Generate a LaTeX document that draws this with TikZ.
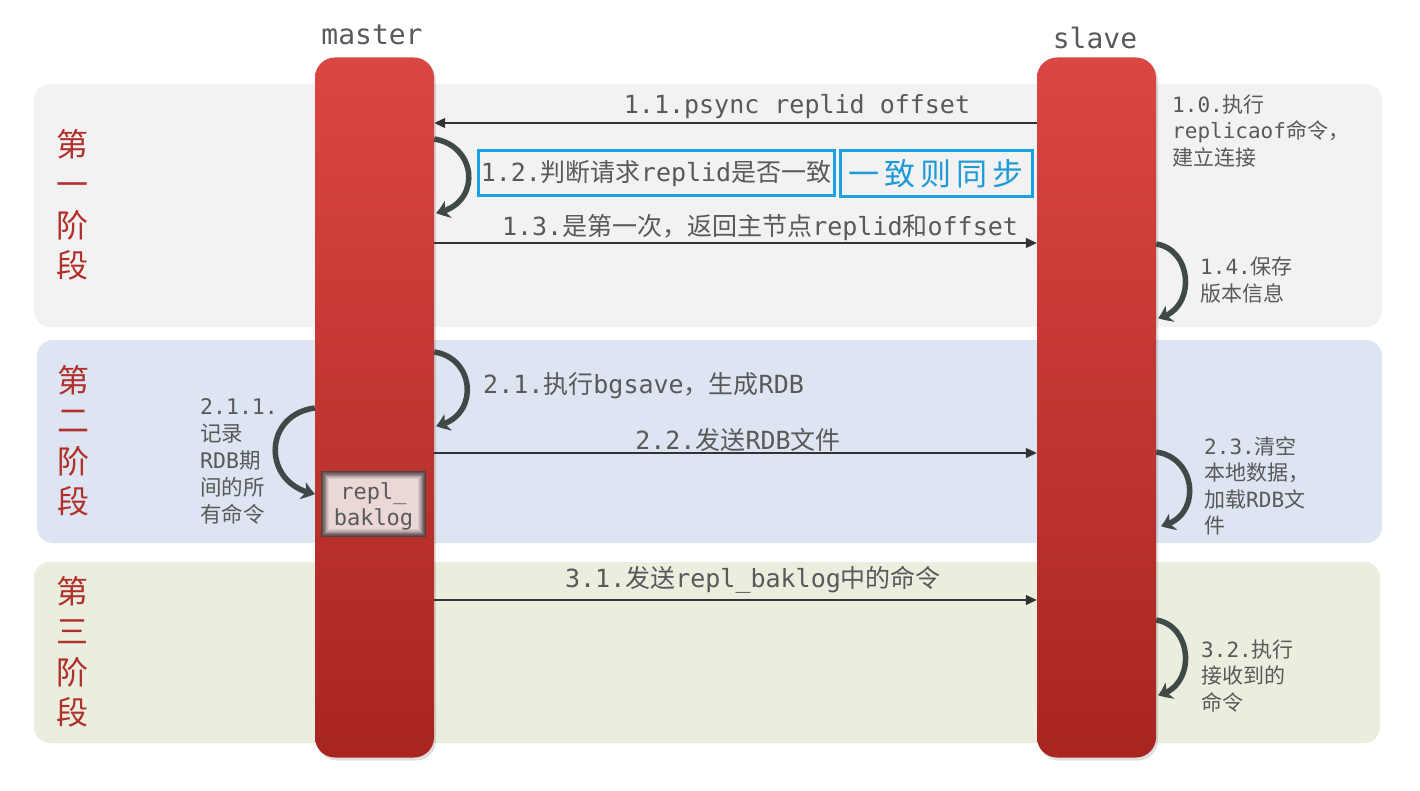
\documentclass[tikz,border=0pt]{standalone}
\usepackage{fontspec}
\newfontfamily\mono{DejaVu Sans Mono}
\newfontfamily\cjk{Noto Sans CJK SC}
\usetikzlibrary{arrows.meta,bending,shadows}
\definecolor{barTop}{HTML}{DA4643}
\definecolor{barBot}{HTML}{A92521}
\definecolor{phA}{HTML}{F2F2F2}
\definecolor{phB}{HTML}{DCE5F1}
\definecolor{phC}{HTML}{E9EEDE}
\definecolor{txt}{HTML}{595959}
\definecolor{phasered}{HTML}{B2302B}
\definecolor{curvecol}{HTML}{3E4948}
\definecolor{bluebox}{HTML}{1BA1E2}
\definecolor{bluetxt}{HTML}{1E9AD6}
\definecolor{lineblk}{HTML}{333333}
\definecolor{rbA}{HTML}{4A3838}
\definecolor{rbD}{HTML}{F4E0E0}
\newcommand\zh[1]{{\cjk #1}}
\begin{document}
\begin{tikzpicture}[x=1pt,y=-1pt,
  bar/.style={rectangle,rounded corners=20pt,minimum width=119pt,minimum height=700pt,
    top color=barTop,bottom color=barBot,draw=none,
    drop shadow={shadow xshift=2pt,shadow yshift=-3pt,opacity=0.25}},
  phaselbl/.style={text=phasered,align=center,inner sep=0pt,
    font=\cjk\fontsize{32}{40.5}\selectfont},
  actor/.style={text=txt,inner sep=0pt,font=\mono\fontsize{28}{32}\selectfont},
  msglbl/.style={text=txt,inner sep=0pt,font=\mono\fontsize{25}{30}\selectfont},
  note/.style={text=txt,inner sep=0pt,align=left,font=\mono\fontsize{21}{26.5}\selectfont},
  msg/.style={draw=lineblk,line width=1.3pt,-{Triangle[length=11pt,width=10pt]}},
  curv/.style={draw=curvecol,line width=5.5pt,-{Stealth[length=13pt,width=18pt,inset=4pt,bend]}},
  bluebx/.style={draw=bluebox,line width=3pt,inner sep=0pt}]
\useasboundingbox (0,0) rectangle (1420,791);
% phase backgrounds
\fill[phA,rounded corners=16pt] (34,84) rectangle (1382,327);
\fill[phB,rounded corners=16pt] (37,340) rectangle (1382,543);
\fill[phC,rounded corners=16pt] (34,562) rectangle (1380,743);
% phase labels
\node[phaselbl] (p1) at (72,205) {第\\一\\阶\\段};
\node[phaselbl] (p2) at (73,441) {第\\二\\阶\\段};
\node[phaselbl] (p3) at (72,652) {第\\三\\阶\\段};
% lifelines
\node[bar] (master) at (374.5,407.5) {};
\node[bar] (slave) at (1096.5,407.5) {};
\node[actor] (mlbl) at (372,35) {master};
\node[actor] (slbl) at (1095,38) {slave};
% repl_baklog box (soft dark inner edge)
\foreach \i in {0,...,9} {
  \pgfmathtruncatemacro\p{95-\i*10}
  \fill[rbA!\p!rbD] (321+\i*0.9,471+\i*0.9) rectangle (426-\i*0.9,537-\i*0.9);
}
\node[text=txt,align=center,inner sep=0pt,font=\mono\fontsize{22}{26}\selectfont] (rb) at (373.5,506) {repl\_\\baklog};
% phase 1
\draw[msg] (slave.west |- 0,123) -- (master.east |- 0,123);
\node[msglbl] (l11) at (797,107) {1.1.psync replid offset};
\draw[curv] (master.east |- 0,139) .. controls (478,146) and (482,205) .. (436,213);
\node[bluebx,minimum width=356pt,minimum height=45pt] (b12) at (656,173.5) {};
\node[msglbl] (l12) at (b12) {1.2.\zh{判断请求}replid\zh{是否一致}};
\node[bluebx,minimum width=192pt,minimum height=46pt] (b12s) at (936,173.5) {};
\node[text=bluetxt,inner sep=0pt,font=\cjk\fontsize{31}{34}\selectfont] (l12s) at (b12s) {一\hspace{5pt}致\hspace{5pt}则\hspace{5pt}同\hspace{5pt}步};
\draw[msg] (master.east |- 0,243) -- (slave.west |- 0,243);
\node[msglbl] (l13) at (760,228) {1.3.\zh{是第一次，返回主节点}replid\zh{和}offset};
\node[note,anchor=west] (l10) at (1172,131) {1.0.\zh{执行}\\replicaof\zh{命令，}\\\zh{建立连接}};
\draw[curv] (slave.east |- 0,244) .. controls (1194,250) and (1196,311) .. (1158,318);
\node[note,anchor=west] (l14) at (1200,280) {1.4.\zh{保存}\\\zh{版本信息}};
% phase 2
\draw[curv] (master.east |- 0,352) .. controls (476,358) and (480,418) .. (436,426);
\node[msglbl,anchor=west] (l21) at (483,386) {2.1.\zh{执行}bgsave\zh{，生成}RDB};
\draw[msg] (master.east |- 0,453) -- (slave.west |- 0,453);
\node[msglbl] (l22) at (738,440) {2.2.\zh{发送}RDB\zh{文件}};
\draw[curv] (master.west |- 0,408) .. controls (262,415) and (262,485) .. (315,494);
\node[note,anchor=west,font=\mono\fontsize{21.5}{27}\selectfont] (l211) at (200,461) {2.1.1.\\\zh{记录}\\RDB\zh{期}\\\zh{间的所}\\\zh{有命令}};
\draw[curv] (slave.east |- 0,452) .. controls (1198,458) and (1202,518) .. (1161,526);
\node[note,anchor=west] (l23) at (1204,486) {2.3.\zh{清空}\\\zh{本地数据，}\\\zh{加载}RDB\zh{文}\\\zh{件}};
% phase 3
\draw[msg] (master.east |- 0,600) -- (slave.west |- 0,600);
\node[msglbl] (l31) at (753,580) {3.1.\zh{发送}repl\_baklog\zh{中的命令}};
\draw[curv] (slave.east |- 0,620) .. controls (1194,626) and (1196,688) .. (1158,695);
\node[note,anchor=west] (l32) at (1201,676) {3.2.\zh{执行}\\\zh{接收到的}\\\zh{命令}};
\end{tikzpicture}
\end{document}
